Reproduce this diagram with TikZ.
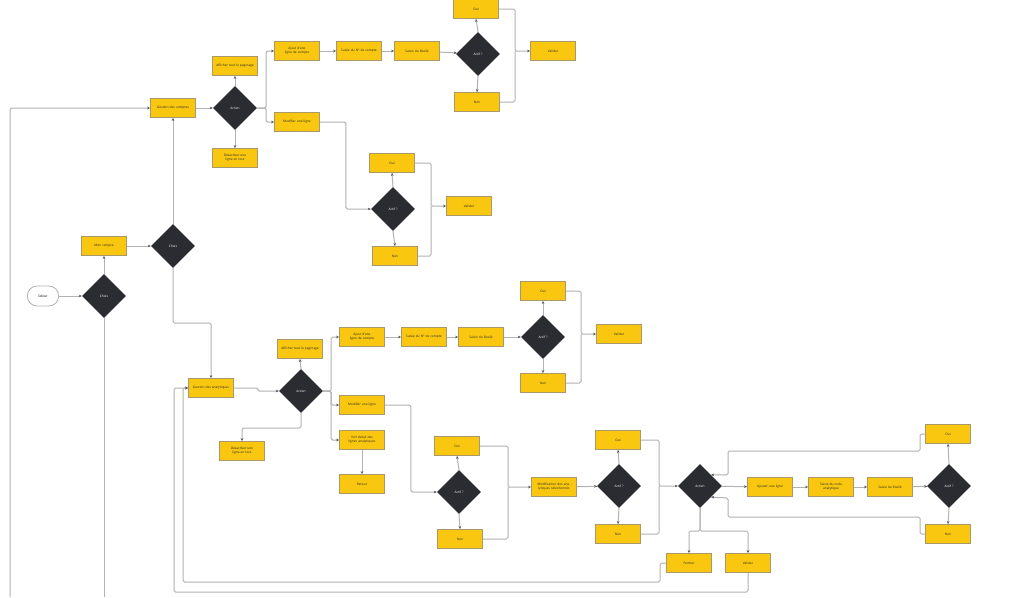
\documentclass[tikz,border=0pt]{standalone}
\usepackage{fontspec}
\setmainfont{Open Sans}
\usetikzlibrary{shapes.geometric,arrows.meta,calc}
\definecolor{boxyellow}{HTML}{FAC710}
\definecolor{boxborder}{HTML}{A8986A}
\definecolor{diadark}{HTML}{2B2C31}
\definecolor{linegray}{HTML}{B2B2B2}
\definecolor{tipgray}{HTML}{555555}
\begin{document}
\begin{tikzpicture}[x=1pt,y=-1pt,
  box/.style={draw=boxborder, line width=0.8pt, fill=boxyellow, minimum width=45pt, minimum height=19pt,
    inner sep=0.5pt, text width=38pt, align=center, font=\fontsize{3.2}{3.9}\selectfont, text=black!85},
  dia/.style={diamond, fill=diadark, draw=none, minimum width=44pt, minimum height=44pt, inner sep=0pt,
    text=white, font=\fontsize{3.2}{3.9}\selectfont},
  startnode/.style={draw=linegray, line width=0.8pt, fill=white, rounded corners=9.5pt, minimum width=31pt,
    minimum height=20pt, inner sep=0pt, font=\fontsize{3.2}{3.9}\selectfont},
  line/.style={draw=linegray, line width=1pt, rounded corners=1.5pt},
  conn/.style={line, -{Stealth[length=3pt,width=2.6pt,color=tipgray]}}]
\useasboundingbox (0,0) rectangle (1024,597);
\fill[white] (0,0) rectangle (1024,597);

% ---------- left part ----------
\node[startnode] (S) at (43,296) {Début};
\node[dia] (E1) at (104,296) {Choix};
\node[box] (E2) at (104,246) {Mon compte};
\node[dia] (E3) at (173,246) {Choix};
\node[box] (G1) at (173,108) {Gestion des comptes};
\node[box] (G2) at (211,388) {Gestion des analytiques};

% ---------- top section ----------
\node[dia] (D1) at (235,108) {Action};
\node[box] (A1) at (235,66) {Afficher tout le paginage};
\node[box] (X1) at (235,158) {Désactiver une ligne en tout};
\node[box] (B1) at (297,51) {Ajout d'une ligne de compte};
\node[box] (B2) at (359,51) {Saisie du N° de compte};
\node[box] (B3) at (417,51) {Saisie du libellé};
\node[dia] (B4) at (478,54) {Actif ?};
\node[box] (B5) at (476,9) {Oui};
\node[box] (B6) at (477,102) {Non};
\node[box] (B7) at (553,51) {Valider};
\node[box] (C1) at (297,122) {Modifier une ligne};
\node[dia] (C2) at (393,209) {Actif ?};
\node[box] (C3) at (392,163) {Oui};
\node[box] (C4) at (395,256) {Non};
\node[box] (C5) at (469,206) {Valider};

% ---------- bottom section ----------
\node[dia] (D2) at (301,391) {Action};
\node[box] (A2) at (300,349) {Afficher tout le paginage};
\node[box] (X2) at (242,451) {Désactiver une ligne en tout};
\node[box] (H1) at (362,337) {Ajout d'une ligne de compte};
\node[box] (H2) at (424,337) {Saisie du N° de compte};
\node[box] (H3) at (481,337) {Saisie du libellé};
\node[dia] (H4) at (543,337) {Actif ?};
\node[box] (H5) at (543,291) {Oui};
\node[box] (H6) at (543,383) {Non};
\node[box] (H7) at (619,334) {Valider};
\node[box] (I1) at (362,405) {Modifier une ligne};
\node[box] (I2) at (362,440) {Voir détail des lignes analytiques};
\node[box] (I3) at (362,484) {Retour};
\node[dia] (I4) at (459,492) {Actif ?};
\node[box] (I5) at (457,446) {Oui};
\node[box] (I6) at (460,539) {Non};
\node[box] (J1) at (554,487) {Modification des analytiques sélectionnés};
\node[dia] (J2) at (619,486) {Actif ?};
\node[box] (J3) at (618,440) {Oui};
\node[box] (J4) at (618,534) {Non};
\node[dia] (K1) at (700,486) {Action};
\node[box] (K2) at (770,487) {Ajouter une ligne};
\node[box] (K3) at (831,487) {Saisie du code analytique};
\node[box] (K4) at (890,487) {Saisie du libellé};
\node[dia] (K5) at (949,486) {Actif ?};
\node[box] (K6) at (948,434) {Oui};
\node[box] (K7) at (948,534) {Non};
\node[box] (L1) at (689,563) {Fermer};
\node[box] (L2) at (748,563) {Valider};

% ---------- helper coordinates ----------
\coordinate (bot1) at (104,597);
\coordinate (bot0) at (10,597);
\coordinate (m1) at (515,51);
\coordinate (m2) at (431,206);
\coordinate (m3) at (192,323);
\coordinate (m4) at (270,428);
\coordinate (m5) at (581,334);
\coordinate (m6) at (508,487);
\coordinate (m7) at (659,486);
\coordinate (p1) at (920,451);
\coordinate (p2) at (728,475);
\coordinate (p3) at (920,517);
\coordinate (p4) at (728,498);
\coordinate (qL) at (689,531);
\coordinate (qR) at (748,531);
\coordinate (r1) at (660,582);
\coordinate (r2) at (183,582);
\coordinate (r3) at (174,592);

% ---------- connectors: left ----------
\draw[conn] (S) -- (E1);
\draw[conn] (E1.north) -- (E2.south);
\draw[conn] (E2) -- (E3);
\draw[conn] (E3.north) -- (G1.south);
\draw[conn] (E3.south) |- (m3) -| (G2.north);
\draw[line] (E1.south) -- (bot1);
\draw[conn] (bot0) |- (G1.west);

% ---------- connectors: top ----------
\draw[conn] (G1) -- (D1);
\draw[conn] (D1.north) -- (A1.south);
\draw[conn] (D1.south) -- (X1.north);
\draw[conn] (D1.east) -- ++(9,0) |- (B1.west);
\draw[conn] (D1.east) -- ++(9,0) |- (C1.west);
\draw[conn] (B1) -- (B2);
\draw[conn] (B2) -- (B3);
\draw[conn] (B3) -- (B4);
\draw[conn] (B4.north) -- (B5.south);
\draw[conn] (B4.south) -- (B6.north);
\draw[conn] (B5.east) -| (m1) -- (B7.west);
\draw[line] (B6.east) -| (m1);
\draw[conn] (C1.east) -- ++(26,0) |- (C2.west);
\draw[conn] (C2.north) -- (C3.south);
\draw[conn] (C2.south) -- (C4.north);
\draw[conn] (C3.east) -| (m2) -- (C5.west);
\draw[line] (C4.east) -| (m2);

% ---------- connectors: bottom ----------
\draw[conn] (G2.east) -- ++(24,0) |- (D2.west);
\draw[conn] (D2.north) -- (A2.south);
\draw[conn] (D2.south) |- (m4) -| (X2.north);
\draw[conn] (D2.east) -- ++(8,0) |- (H1.west);
\draw[conn] (D2.east) -- ++(8,0) |- (I1.west);
\draw[conn] (D2.east) -- ++(8,0) |- (I2.west);
\draw[conn] (H1) -- (H2);
\draw[conn] (H2) -- (H3);
\draw[conn] (H3) -- (H4);
\draw[conn] (H4.north) -- (H5.south);
\draw[conn] (H4.south) -- (H6.north);
\draw[conn] (H5.east) -| (m5) -- (H7.west);
\draw[line] (H6.east) -| (m5);
\draw[conn] (I2.south) -- (I3.north);
\draw[conn] (I1.east) -- ++(26,0) |- (I4.west);
\draw[conn] (I4.north) -- (I5.south);
\draw[conn] (I4.south) -- (I6.north);
\draw[conn] (I5.east) -| (m6) -- (J1.west);
\draw[line] (I6.east) -| (m6);
\draw[conn] (J1) -- (J2);
\draw[conn] (J2.north) -- (J3.south);
\draw[conn] (J2.south) -- (J4.north);
\draw[conn] (J3.east) -| (m7) -- (K1.west);
\draw[line] (J4.east) -| (m7);
\draw[conn] (K1) -- (K2);
\draw[conn] (K2) -- (K3);
\draw[conn] (K3) -- (K4);
\draw[conn] (K4) -- (K5);
\draw[conn] (K5.north) -- (K6.south);
\draw[conn] (K5.south) -- (K7.north);
\draw[conn] (K6.west) -| (p1) -| (p2) -- (K1.north east);
\draw[conn] (K7.west) -| (p3) -| (p4) -- (K1.south east);
\draw[conn] (K1.south) |- (qL) -- (L1.north);
\draw[conn] (K1.south) |- (qR) -- (L2.north);
\draw[conn] (L1.west) -| (r1) -| (r2) |- (G2.west);
\draw[conn] (L2.south) |- (r3) |- (G2.west);
\end{tikzpicture}
\end{document}
